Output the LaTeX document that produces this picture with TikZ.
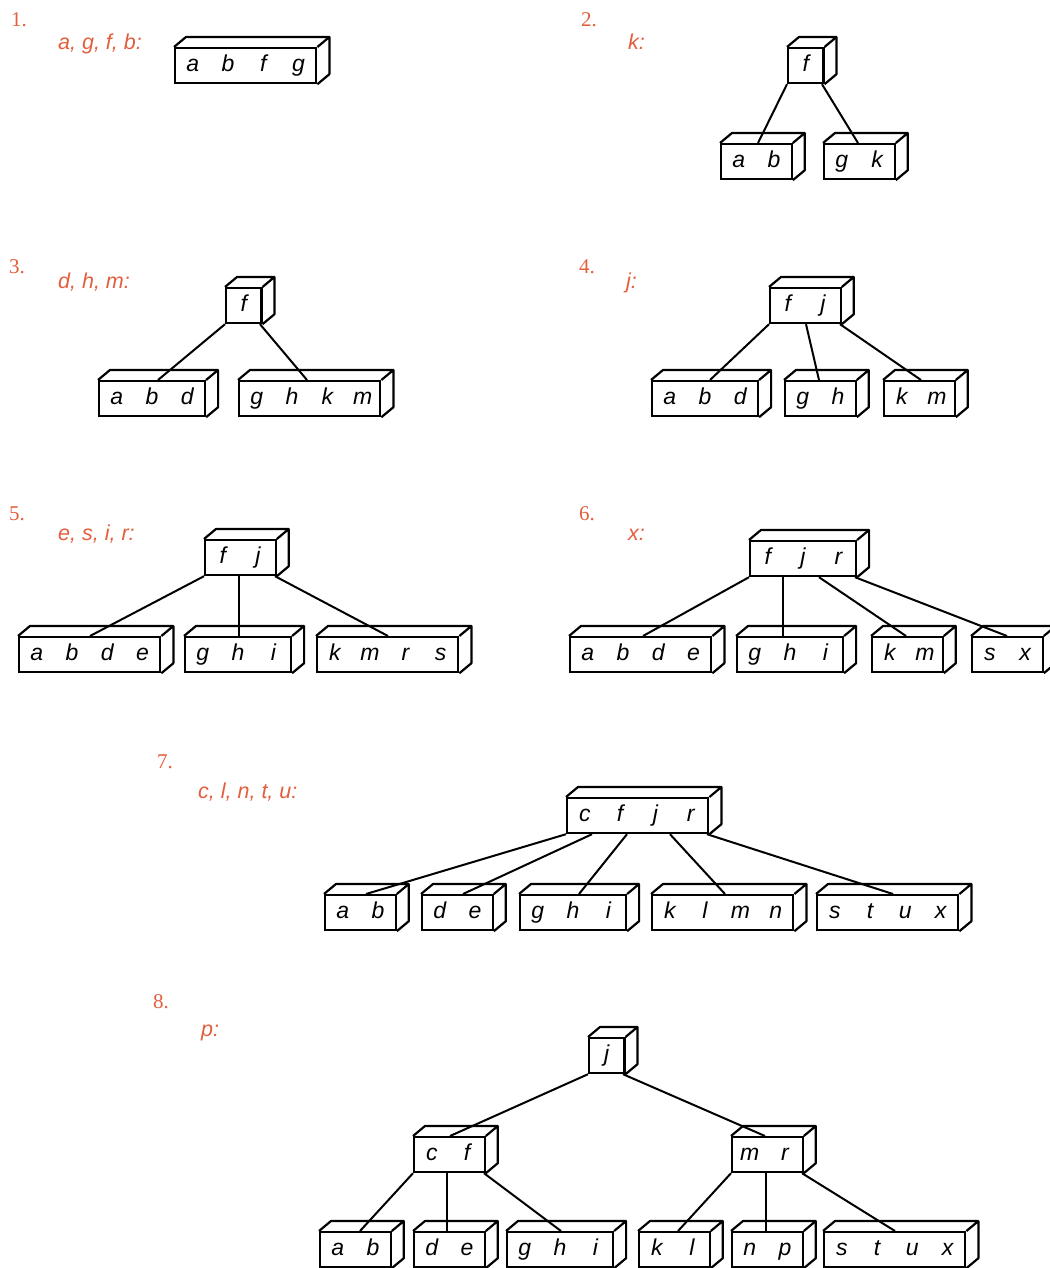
\documentclass[tikz,border=0pt]{standalone}
\usepackage{fontspec}
\setmainfont{Liberation Serif}
\setsansfont{Liberation Sans}
\definecolor{remark}{RGB}{226,94,60}
\newcommand\kk[1]{\makebox[35.3pt]{#1}}
% a b-tree page: front face as node, top and side drawn after
\newcommand\page[3]{%
  \node[page] (#1) at (#2) {#3};
  \draw[face] (#1.north west) -- ++(12,-10) -- ([shift={(12,-10)}]#1.north east)
    -- ([shift={(12,-10)}]#1.south east) -- (#1.south east)
    (#1.north east) -- ++(12,-10);}
\newcommand\link[4]{\draw[link] ([xshift=#2pt]#1.south west) -- ([xshift=#4pt]#3.north west);}
\begin{document}
\begin{tikzpicture}[x=1pt, y=-1pt,
    page/.style={draw, line width=2.2pt, anchor=north west, inner sep=0pt,
      minimum height=35pt, text height=15pt, text depth=4pt,
      font=\sffamily\itshape\fontsize{23}{27}\selectfont},
    face/.style={line width=2.2pt, line join=round},
    link/.style={line width=2pt},
    num/.style={anchor=base west, inner sep=0pt, text=remark, font=\fontsize{21}{25}\selectfont},
    ins/.style={anchor=base west, inner sep=0pt, text=remark,
      font=\sffamily\itshape\fontsize{21.5}{25}\selectfont}]
\useasboundingbox (0,0) rectangle (1049,1268);

% 1
\node[num] (n1) at (11,27) {1.};
\node[ins] (i1) at (58,50) {a, g, f, b:};
\page{p1}{174,47}{\kk{a}\kk{b}\kk{f}\kk{g}}

% 2
\node[num] (n2) at (581,27) {2.};
\node[ins] (i2) at (628,50) {k:};
\page{p2}{787,47}{\kk{f}}
\page{p2a}{720,143}{\kk{a}\kk{b}}
\page{p2b}{823,143}{\kk{g}\kk{k}}
\link{p2}{0}{p2a}{38}
\link{p2}{35}{p2b}{35}

% 3
\node[num] (n3) at (9,273) {3.};
\node[ins] (i3) at (58,288) {d, h, m:};
\page{p3}{225,287}{\kk{f}}
\page{p3a}{98,380}{\kk{a}\kk{b}\kk{d}}
\page{p3b}{238,380}{\kk{g}\kk{h}\kk{k}\kk{m}}
\link{p3}{0}{p3a}{60}
\link{p3}{35}{p3b}{69}

% 4
\node[num] (n4) at (579,273) {4.};
\node[ins] (i4) at (626,288) {j:};
\page{p4}{769,287}{\kk{f}\kk{j}}
\page{p4a}{651,380}{\kk{a}\kk{b}\kk{d}}
\page{p4b}{784,380}{\kk{g}\kk{h}}
\page{p4c}{883,380}{\kk{k}\kk{m}}
\link{p4}{0}{p4a}{59}
\link{p4}{37}{p4b}{35}
\link{p4}{71}{p4c}{38}

% 5
\node[num] (n5) at (9,520) {5.};
\node[ins] (i5) at (58,540) {e, s, i, r:};
\page{p5}{204,539}{\kk{f}\kk{j}}
\page{p5a}{18,636}{\kk{a}\kk{b}\kk{d}\kk{e}}
\page{p5b}{184,636}{\kk{g}\kk{h}\kk{i}}
\page{p5c}{316,636}{\kk{k}\kk{m}\kk{r}\kk{s}}
\link{p5}{0}{p5a}{72}
\link{p5}{35}{p5b}{55}
\link{p5}{71}{p5c}{72}

% 6
\node[num] (n6) at (579,520) {6.};
\node[ins] (i6) at (628,540) {x:};
\page{p6}{749,540}{\kk{f}\kk{j}\kk{r}}
\page{p6a}{569,636}{\kk{a}\kk{b}\kk{d}\kk{e}}
\page{p6b}{736,636}{\kk{g}\kk{h}\kk{i}}
\page{p6c}{871,636}{\kk{k}\kk{m}}
\page{p6d}{971,636}{\kk{s}\kk{x}}
\link{p6}{0}{p6a}{74}
\link{p6}{34}{p6b}{47}
\link{p6}{70}{p6c}{35}
\link{p6}{106}{p6d}{36}

% 7
\node[num] (n7) at (157,768) {7.};
\node[ins] (i7) at (198,798) {c, l, n, t, u:};
\page{p7}{566,797}{\kk{c}\kk{f}\kk{j}\kk{r}}
\page{p7a}{324,894}{\kk{a}\kk{b}}
\page{p7b}{421,894}{\kk{d}\kk{e}}
\page{p7c}{519,894}{\kk{g}\kk{h}\kk{i}}
\page{p7d}{651,894}{\kk{k}\kk{l}\kk{m}\kk{n}}
\page{p7e}{816,894}{\kk{s}\kk{t}\kk{u}\kk{x}}
\link{p7}{0}{p7a}{42}
\link{p7}{26}{p7b}{42}
\link{p7}{61}{p7c}{60}
\link{p7}{104}{p7d}{74}
\link{p7}{141}{p7e}{77}

% 8
\node[num] (n8) at (153,1008) {8.};
\node[ins] (i8) at (201,1036) {p:};
\page{p8}{588,1037}{\kk{j}}
\page{p8a}{413,1136}{\kk{c}\kk{f}}
\page{p8b}{731,1136}{\kk{m}\kk{r}}
\page{p8c}{319,1231}{\kk{a}\kk{b}}
\page{p8d}{413,1231}{\kk{d}\kk{e}}
\page{p8e}{506,1231}{\kk{g}\kk{h}\kk{i}}
\page{p8f}{638,1231}{\kk{k}\kk{l}}
\page{p8g}{731,1231}{\kk{n}\kk{p}}
\page{p8h}{823,1231}{\kk{s}\kk{t}\kk{u}\kk{x}}
\link{p8}{0}{p8a}{37}
\link{p8}{35}{p8b}{34}
\link{p8a}{0}{p8c}{41}
\link{p8a}{34}{p8d}{34}
\link{p8a}{71}{p8e}{55}
\link{p8b}{0}{p8f}{40}
\link{p8b}{35}{p8g}{35}
\link{p8b}{71}{p8h}{72}
\end{tikzpicture}
\end{document}
